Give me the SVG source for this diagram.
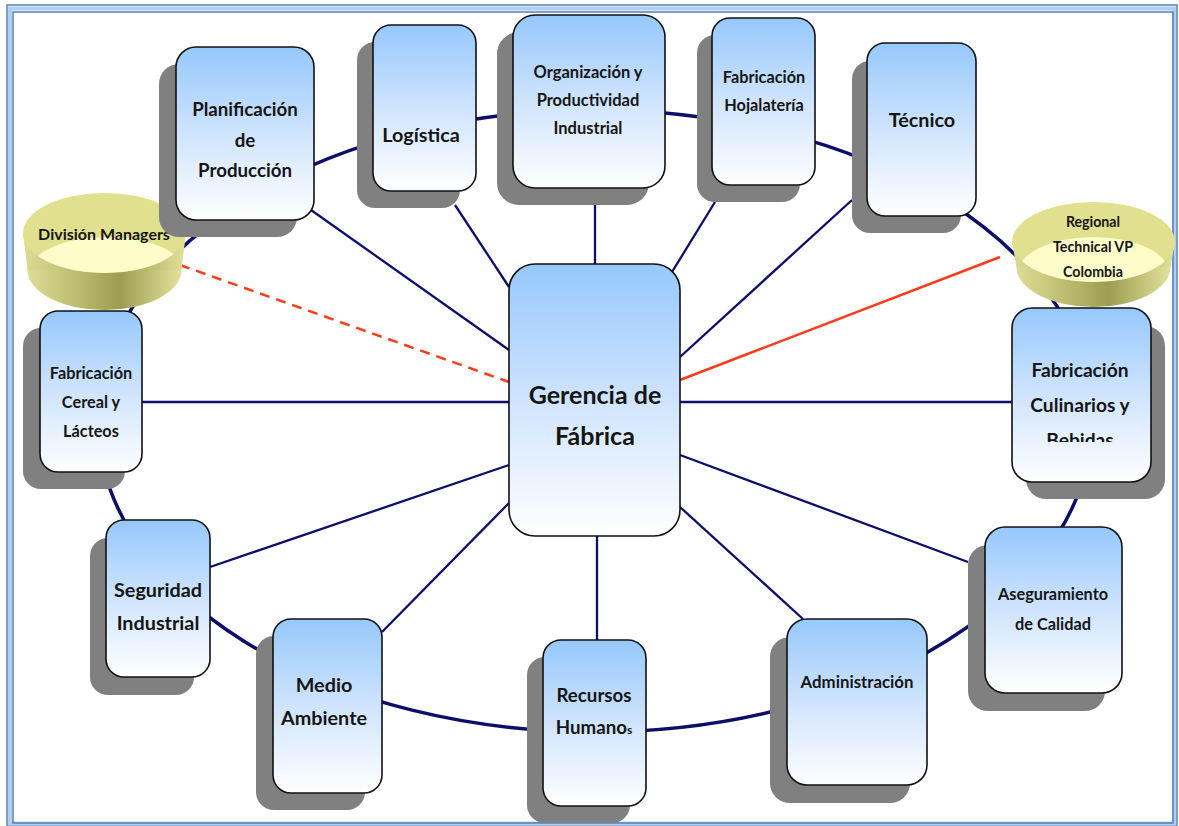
<svg xmlns="http://www.w3.org/2000/svg" width="1179" height="826" viewBox="0 0 1179 826">
<defs>
<linearGradient id="boxg" x1="0" y1="0" x2="0" y2="1">
<stop offset="0" stop-color="#96c8fc"/>
<stop offset="0.5" stop-color="#cfe4fd"/>
<stop offset="1" stop-color="#ffffff"/>
</linearGradient>
<linearGradient id="sideg" x1="0" y1="0" x2="1" y2="0">
<stop offset="0" stop-color="#dcdc96"/>
<stop offset="0.35" stop-color="#b9b96c"/>
<stop offset="0.6" stop-color="#9d9d52"/>
<stop offset="1" stop-color="#e2e29c"/>
</linearGradient>
<clipPath id="dmTop"><ellipse cx="104.5" cy="233" rx="81.5" ry="40"/></clipPath>
<clipPath id="rtTop"><ellipse cx="1093.5" cy="242" rx="81.5" ry="40"/></clipPath>
<clipPath id="culClip"><rect x="1012" y="308" width="139" height="134"/></clipPath>
</defs>
<style>
.frameO{fill:none;stroke:#4f81bd;stroke-width:1.5}
.frameM{fill:none;stroke:#b3cdec;stroke-width:4}
.ring{fill:none;stroke:#0d0d6b;stroke-width:3.5}
.spoke{stroke:#0d0d6b;stroke-width:2.3;fill:none}
.red{stroke:#ff3b1a;stroke-width:2.5;fill:none}
.dash{stroke-dasharray:10 7}
.shadow{fill:#808080}
.box{fill:url(#boxg);stroke:#111;stroke-width:1.6}
.side{fill:url(#sideg)}
.rim{fill:#e0e08e}
.floor{fill:#fdfdca}
text{font-family:Lato,"Liberation Sans",sans-serif;font-weight:bold;fill:#151515;text-anchor:middle}
</style>
<rect width="1179" height="826" fill="#ffffff"/>
<g id="frame">
<rect class="frameO" x="7" y="5" width="1170" height="820"/>
<rect class="frameM" x="10" y="8.5" width="1164" height="815"/>
<rect class="frameO" x="13" y="12" width="1160" height="811"/>
</g>
<g id="connectors">
<ellipse class="ring" cx="595" cy="421" rx="497" ry="311"/>
<line class="spoke" x1="311" y1="210" x2="509" y2="350"/>
<line class="spoke" x1="455" y1="205" x2="509" y2="287"/>
<line class="spoke" x1="595" y1="205" x2="595" y2="264"/>
<line class="spoke" x1="715" y1="202" x2="672" y2="272"/>
<line class="spoke" x1="852" y1="200" x2="680" y2="357"/>
<line class="spoke" x1="680" y1="402" x2="1012" y2="402"/>
<line class="spoke" x1="142" y1="402" x2="509" y2="402"/>
<line class="spoke" x1="680" y1="455" x2="968" y2="562"/>
<line class="spoke" x1="680" y1="507" x2="803" y2="619"/>
<line class="spoke" x1="597" y1="536" x2="597" y2="640"/>
<line class="spoke" x1="382" y1="632" x2="509" y2="503"/>
<line class="spoke" x1="210" y1="567" x2="509" y2="465"/>
<line class="red dash" x1="180" y1="265" x2="509" y2="382"/>
<line class="red" x1="680" y1="380" x2="1000" y2="257"/>
</g>
<g id="division-managers">
<ellipse class="side" cx="104.5" cy="270" rx="77" ry="40"/>
<polygon class="side" points="23,233 186,233 181.5,270 27.5,270"/>
<ellipse class="rim" cx="104.5" cy="233" rx="81.5" ry="40"/>
<ellipse class="floor" cx="107" cy="270" rx="76" ry="33" clip-path="url(#dmTop)"/>
<text x="104" y="240" font-size="16">División Managers</text>
</g>
<g id="regional-technical-vp">
<ellipse class="side" cx="1093.5" cy="267" rx="77" ry="40"/>
<polygon class="side" points="1012,242 1175,242 1170.5,267 1016.5,267"/>
<ellipse class="rim" cx="1093.5" cy="242" rx="81.5" ry="40"/>
<ellipse class="floor" cx="1093.5" cy="274" rx="76" ry="37" clip-path="url(#rtTop)"/>
<text x="1093" y="227" font-size="14.2">Regional</text>
<text x="1093" y="252" font-size="14.2">Technical VP</text>
<text x="1093" y="277" font-size="14.2">Colombia</text>
</g>
<g id="planificacion">
<rect class="shadow" x="159" y="64" width="138" height="173" rx="20"/>
<rect class="box" x="176" y="47" width="138" height="173" rx="20"/>
<text x="245" y="116" font-size="18.7">Planificación</text>
<text x="245" y="147" font-size="18.7">de</text>
<text x="245" y="177" font-size="18.7">Producción</text>
</g>
<g id="logistica">
<rect class="shadow" x="357" y="42" width="103" height="166" rx="18"/>
<rect class="box" x="373" y="25" width="103" height="166" rx="18"/>
<text x="421" y="142" font-size="19.8">Logística</text>
</g>
<g id="organizacion">
<rect class="shadow" x="497" y="32" width="152" height="173" rx="22"/>
<rect class="box" x="513" y="15" width="152" height="173" rx="22"/>
<text x="588" y="78" font-size="16.5">Organización y</text>
<text x="588" y="106" font-size="16.5">Productividad</text>
<text x="588" y="134" font-size="16.5">Industrial</text>
</g>
<g id="hojalateria">
<rect class="shadow" x="697" y="35" width="103" height="167" rx="18"/>
<rect class="box" x="712" y="18" width="103" height="167" rx="18"/>
<text x="764" y="83" font-size="16.3">Fabricación</text>
<text x="764" y="111" font-size="16.3">Hojalatería</text>
</g>
<g id="tecnico">
<rect class="shadow" x="852" y="61" width="109" height="172" rx="18"/>
<rect class="box" x="867" y="43" width="109" height="173" rx="18"/>
<text x="922" y="127" font-size="19.8">Técnico</text>
</g>
<g id="culinarios">
<rect class="shadow" x="1026" y="326" width="139" height="173" rx="20"/>
<rect class="box" x="1012" y="308" width="139" height="174" rx="20"/>
<g clip-path="url(#culClip)">
<text x="1080" y="377" font-size="19.2">Fabricación</text>
<text x="1080" y="412" font-size="19.2">Culinarios y</text>
<text x="1080" y="447" font-size="19.2">Bebidas</text>
</g>
</g>
<g id="aseguramiento">
<rect class="shadow" x="968" y="545" width="137" height="166" rx="20"/>
<rect class="box" x="985" y="527" width="137" height="166" rx="20"/>
<text x="1053" y="600" font-size="16.3">Aseguramiento</text>
<text x="1053" y="630" font-size="16.3">de Calidad</text>
</g>
<g id="administracion">
<rect class="shadow" x="770" y="637" width="140" height="166" rx="20"/>
<rect class="box" x="787" y="619" width="140" height="166" rx="20"/>
<text x="857" y="688" font-size="16.8">Administración</text>
</g>
<g id="recursos-humanos">
<rect class="shadow" x="527" y="657" width="103" height="166" rx="18"/>
<rect class="box" x="543" y="640" width="103" height="166" rx="18"/>
<text x="594" y="702" font-size="18.7">Recursos</text>
<text x="594" y="734" font-size="18.7">Humano<tspan font-size="12">s</tspan></text>
</g>
<g id="medio-ambiente">
<rect class="shadow" x="256" y="636" width="109" height="174" rx="18"/>
<rect class="box" x="273" y="619" width="109" height="174" rx="18"/>
<text x="324" y="692" font-size="19.8">Medio</text>
<text x="324" y="725" font-size="19.8">Ambiente</text>
</g>
<g id="seguridad">
<rect class="shadow" x="90" y="538" width="104" height="157" rx="18"/>
<rect class="box" x="106" y="520" width="104" height="157" rx="18"/>
<text x="158" y="597" font-size="19.8">Seguridad</text>
<text x="158" y="630" font-size="19.8">Industrial</text>
</g>
<g id="cereal-lacteos">
<rect class="shadow" x="23" y="328" width="102" height="161" rx="18"/>
<rect class="box" x="40" y="311" width="102" height="161" rx="18"/>
<text x="91" y="379" font-size="16.3">Fabricación</text>
<text x="91" y="408" font-size="16.3">Cereal y</text>
<text x="91" y="437" font-size="16.3">Lácteos</text>
</g>
<g id="gerencia">
<rect class="box" x="509" y="264" width="171" height="272" rx="26"/>
<text x="595" y="404" font-size="25">Gerencia de</text>
<text x="595" y="445" font-size="25">Fábrica</text>
</g>
</svg>
